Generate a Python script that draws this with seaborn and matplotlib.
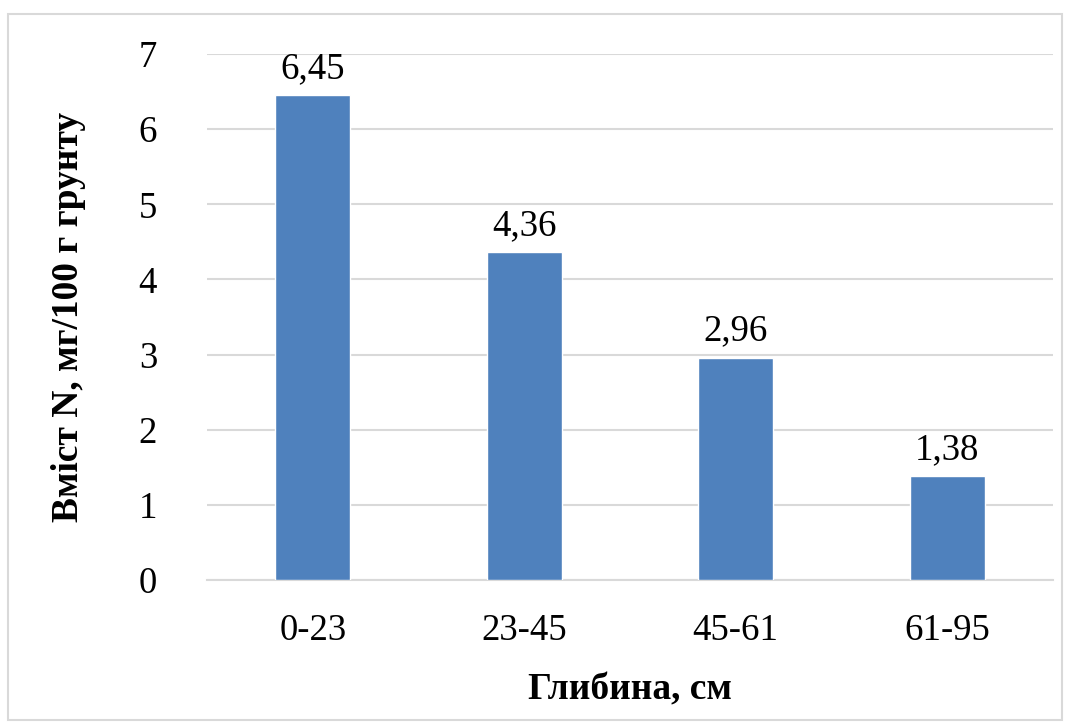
import matplotlib
matplotlib.use("Agg")
import matplotlib.pyplot as plt
import seaborn as sns
import pandas as pd
from matplotlib.patches import Rectangle

# Data
depths = ['0-23', '23-45', '45-61', '61-95']
n_content = [6.45, 4.36, 2.96, 1.38]
value_labels = ['6,45', '4,36', '2,96', '1,38']

df = pd.DataFrame({'depth': depths, 'n': n_content})

sns.set_theme(style="white")
plt.rcParams['font.family'] = ['Liberation Serif', 'DejaVu Serif']
plt.rcParams['text.color'] = 'black'
plt.rcParams['axes.labelcolor'] = 'black'

fig = plt.figure(figsize=(10.7, 7.27), dpi=100)
ax = fig.add_axes([0.1935, 0.2022, 0.7905, 0.7235])

sns.barplot(data=df, x='depth', y='n', color='#4F81BD', saturation=1,
            width=0.355, ax=ax, zorder=3)

# Value labels
for bar, lbl in zip(ax.patches, value_labels):
    ax.text(bar.get_x() + bar.get_width() / 2, bar.get_height() + 0.12, lbl,
            ha='center', va='bottom', fontsize=26.5, color='black')

ax.set_ylim(0, 7)
ax.set_yticks(range(0, 8))
ax.yaxis.grid(True, color='#D9D9D9', linewidth=1.5, zorder=0)
ax.set_axisbelow(True)
for s in ['top', 'right', 'left']:
    ax.spines[s].set_visible(False)
ax.spines['bottom'].set_color('#D9D9D9')
ax.spines['bottom'].set_linewidth(1.5)
ax.tick_params(axis='both', length=0, labelsize=26.5, colors='black')
ax.tick_params(axis='y', pad=36)
ax.tick_params(axis='x', pad=24)

ax.set_xlabel('Глибина, см', fontsize=27, fontweight='bold', labelpad=18)
ax.set_ylabel('Вміст N, мг/100 г грунту', fontsize=27, fontweight='bold', labelpad=38)

# Outer chart border
fig.patches.append(Rectangle((8 / 1070, 1 - 720 / 727), 1054 / 1070, 706 / 727,
                             transform=fig.transFigure, fill=False,
                             edgecolor='#D9D9D9', linewidth=1.5))

fig.savefig('out.png', dpi=100)
